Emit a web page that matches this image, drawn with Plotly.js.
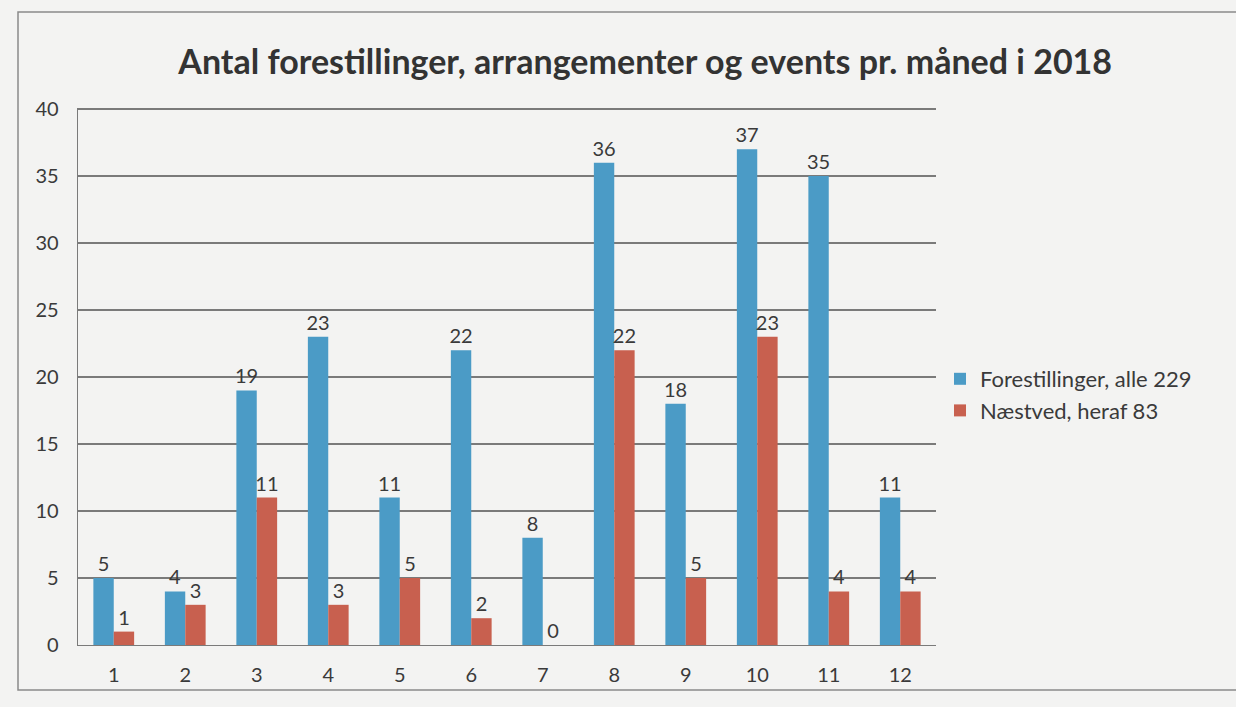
<!DOCTYPE html>
<html>
<head>
<meta charset="utf-8">
<script src="https://cdn.plot.ly/plotly-3.0.1.min.js"></script>
<style>html,body{margin:0;padding:0;background:#f3f3f2;}#chart{width:1236px;height:707px;}</style>
</head>
<body>
<div id="chart"></div>
<script>
const months = ['1','2','3','4','5','6','7','8','9','10','11','12'];
const forestillinger = [5, 4, 19, 23, 11, 22, 8, 36, 18, 37, 35, 11];
const naestved = [1, 3, 11, 3, 5, 2, 0, 22, 5, 23, 4, 4];
const seriesNames = ['Forestillinger, alle 229', 'Næstved, heraf 83'];
const titleText = 'Antal forestillinger, arrangementer og events pr. måned i 2018';

const font = 'Lato, "Open Sans", sans-serif';
const W = 1236, H = 707;
const m = {l: 78, r: 300, t: 108, b: 62};
const pw = W - m.l - m.r, ph = H - m.t - m.b;
const px = x => (x - m.l) / pw;
const py = y => (H - m.b - y) / ph;

const traces = [
  {type: 'bar', x: months, y: forestillinger, name: seriesNames[0],
   marker: {color: '#4b9bc6'}, text: forestillinger.map(String),
   textposition: 'outside', cliponaxis: false, constraintext: 'none',
   textfont: {family: font, size: 20, color: '#3a3a3a'}},
  {type: 'bar', x: months, y: naestved, name: seriesNames[1],
   marker: {color: '#c8604f'}, text: naestved.map(String),
   textposition: 'outside', cliponaxis: false, constraintext: 'none',
   textfont: {family: font, size: 20, color: '#3a3a3a'}}
];

const layout = {
  width: W, height: H,
  margin: m,
  paper_bgcolor: '#f3f3f2',
  plot_bgcolor: '#f3f3f2',
  font: {family: font, color: '#3a3a3a'},
  barmode: 'group', bargap: 0.43, bargroupgap: 0,
  title: {text: '<b>' + titleText + '</b>', x: 0.522, xref: 'container', y: 0.912, yref: 'container',
          xanchor: 'center', yanchor: 'middle',
          font: {family: font, size: 34, color: '#333333'}},
  xaxis: {type: 'category', showgrid: false, zeroline: false, showline: true, linecolor: '#7a7a7a', linewidth: 1.3,
          ticks: 'outside', ticklen: 12, tickcolor: 'rgba(0,0,0,0)',
          tickfont: {family: font, size: 20, color: '#3a3a3a'}},
  yaxis: {range: [0, 40.08], tickvals: [0,5,10,15,20,25,30,35,40], showgrid: true, gridcolor: '#7a7a7a', gridwidth: 1.2,
          zeroline: false, showline: true, linecolor: '#7a7a7a', linewidth: 1.3,
          ticks: 'outside', ticklen: 14, tickcolor: 'rgba(0,0,0,0)',
          tickfont: {family: font, size: 20, color: '#3a3a3a'}},
  legend: {x: px(940), y: py(358), xanchor: 'left', yanchor: 'top',
           bgcolor: 'rgba(0,0,0,0)', font: {family: font, size: 22, color: '#3a3a3a'},
           itemwidth: 30, tracegroupgap: 4},
  showlegend: true,
  shapes: [
    {type: 'rect', xref: 'paper', yref: 'paper', x0: px(18), x1: px(1240), y0: py(690), y1: py(12),
     line: {color: '#8a8a8a', width: 1.5}, fillcolor: 'rgba(0,0,0,0)', layer: 'below'}
  ]
};

Plotly.newPlot('chart', traces, layout, {displayModeBar: false, staticPlot: true});
</script>
</body>
</html>
